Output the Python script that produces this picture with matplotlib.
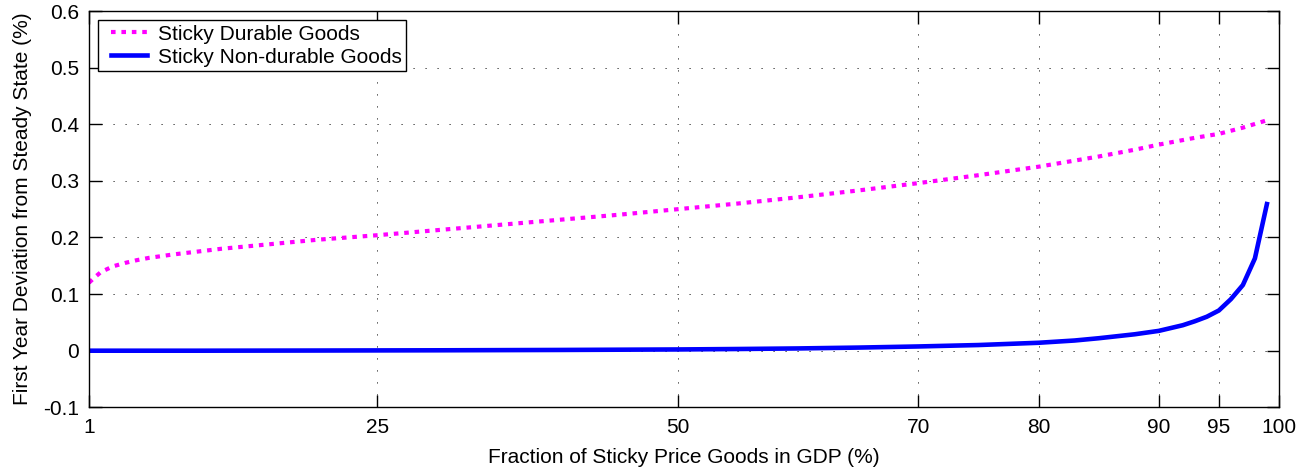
import matplotlib
matplotlib.use("Agg")
import matplotlib.pyplot as plt
from matplotlib.legend_handler import HandlerLine2D

plt.rcParams['font.family'] = ['Liberation Sans', 'DejaVu Sans']

# Sticky durable goods (magenta dotted)
dur_x = [1, 1.5, 2, 3, 4, 5, 6, 8, 10, 12, 15, 20, 25, 30, 35, 40, 45, 50,
         55, 60, 65, 70, 75, 80, 85, 88, 90, 93, 95, 97, 99]
dur_y = [0.120, 0.130, 0.139, 0.149, 0.155, 0.160, 0.164, 0.170, 0.175, 0.180,
         0.186, 0.196, 0.204, 0.213, 0.222, 0.231, 0.240, 0.250, 0.260, 0.271,
         0.283, 0.296, 0.310, 0.325, 0.343, 0.355, 0.364, 0.376, 0.383, 0.394,
         0.407]

# Sticky non-durable goods (blue solid)
non_x = [1, 10, 20, 30, 40, 50, 55, 60, 65, 70, 75, 80, 83, 85, 88, 90, 91,
         92, 93, 94, 95, 96, 97, 98, 99]
non_y = [0.0, 0.0, 0.0003, 0.0007, 0.0013, 0.0022, 0.003, 0.004, 0.0055, 0.0075,
         0.010, 0.014, 0.018, 0.022, 0.029, 0.035, 0.040, 0.045, 0.052, 0.060,
         0.071, 0.091, 0.116, 0.163, 0.259]

x_ticks = [1, 25, 50, 70, 80, 90, 95, 100]
y_ticks = [-0.1, 0, 0.1, 0.2, 0.3, 0.4, 0.5, 0.6]
y_tick_labels = ['-0.1', '0', '0.1', '0.2', '0.3', '0.4', '0.5', '0.6']

FS = 15

fig = plt.figure(figsize=(13.12, 4.75), dpi=100)
ax = fig.add_axes([0.0678, 0.1425, 0.9070, 0.8343])

l1, = ax.plot(dur_x, dur_y, color='#ff00ff', linewidth=3.0, dashes=(1.1, 1.4),
              dash_capstyle='butt', label='Sticky Durable Goods')
l2, = ax.plot(non_x, non_y, color='#0000ff', linewidth=3.3,
              label='Sticky Non-durable Goods')

ax.set_xlim(1, 100)
ax.set_ylim(-0.1, 0.6)
ax.set_xticks(x_ticks)
ax.set_xticklabels([str(t) for t in x_ticks])
ax.set_yticks(y_ticks)
ax.set_yticklabels(y_tick_labels)

ax.tick_params(direction='in', length=9, width=1, top=True, right=True,
               labelsize=FS)
ax.tick_params(axis='x', pad=7.5)
ax.tick_params(axis='y', pad=7)
ax.grid(True, color='black', linewidth=0.6, linestyle=(0, (1.4, 13)))
for s in ax.spines.values():
    s.set_linewidth(1.0)

ax.set_xlabel('Fraction of Sticky Price Goods in GDP (%)', fontsize=FS, labelpad=8)
ax.set_ylabel('First Year Deviation from Steady State (%)', fontsize=FS, labelpad=8)

hmap = {l1: HandlerLine2D(xpad=0.4), l2: HandlerLine2D(xpad=0.4)}
leg = ax.legend(handles=[l1, l2], loc='upper left', fontsize=FS, frameon=True,
                fancybox=False, edgecolor='black', framealpha=1, borderpad=0.2,
                labelspacing=0.2, handlelength=2.13, handletextpad=0.53,
                borderaxespad=0.45, handler_map=hmap)
leg.get_frame().set_linewidth(1.0)

fig.savefig('out.png', dpi=100)
